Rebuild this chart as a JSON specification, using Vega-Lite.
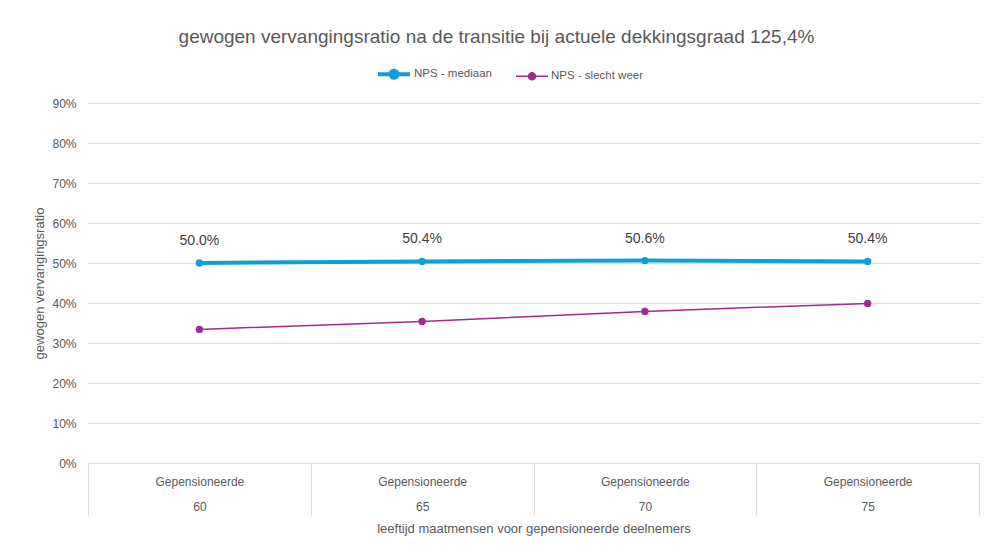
{
  "$schema": "https://vega.github.io/schema/vega-lite/v6.json",
  "width": 891,
  "height": 360,
  "autosize": {"type": "none"},
  "padding": {"left": 88, "top": 103, "right": 8, "bottom": 87},
  "background": "white",
  "title": {
    "text": "gewogen vervangingsratio na de transitie bij actuele dekkingsgraad 125,4%",
    "font": "Liberation Sans",
    "fontSize": 19,
    "fontWeight": "normal",
    "color": "#595959",
    "anchor": "middle",
    "dx": -37,
    "offset": 9
  },
  "data": {
    "values": [
      {"cat": "Gepensioneerde|60", "series": "NPS - mediaan", "value": 0.500},
      {"cat": "Gepensioneerde|65", "series": "NPS - mediaan", "value": 0.504},
      {"cat": "Gepensioneerde|70", "series": "NPS - mediaan", "value": 0.506},
      {"cat": "Gepensioneerde|75", "series": "NPS - mediaan", "value": 0.504},
      {"cat": "Gepensioneerde|60", "series": "NPS - slecht weer", "value": 0.334},
      {"cat": "Gepensioneerde|65", "series": "NPS - slecht weer", "value": 0.354},
      {"cat": "Gepensioneerde|70", "series": "NPS - slecht weer", "value": 0.379},
      {"cat": "Gepensioneerde|75", "series": "NPS - slecht weer", "value": 0.399}
    ]
  },
  "encoding": {
    "x": {
      "field": "cat",
      "type": "nominal",
      "sort": null,
      "scale": {"type": "band", "paddingInner": 0, "paddingOuter": 0},
      "axis": {
        "title": "leeftijd maatmensen voor gepensioneerde deelnemers",
        "labelExpr": "split(datum.label, '|')",
        "labelAngle": 0,
        "labelLineHeight": 25,
        "labelPadding": -39,
        "labelFont": "Liberation Sans",
        "labelFontSize": 12,
        "labelColor": "#595959",
        "tickBand": "extent",
        "tickSize": 52,
        "tickColor": "#d9d9d9",
        "tickWidth": 1,
        "domainColor": "#d9d9d9",
        "domainWidth": 1,
        "grid": false,
        "titleFont": "Liberation Sans",
        "titleFontSize": 13,
        "titleFontWeight": "normal",
        "titleColor": "#595959",
        "titlePadding": 7
      }
    },
    "y": {
      "field": "value",
      "type": "quantitative",
      "scale": {"domain": [0, 0.9], "nice": false},
      "axis": {
        "title": "gewogen vervangingsratio",
        "format": ".0%",
        "values": [0, 0.1, 0.2, 0.3, 0.4, 0.5, 0.6, 0.7, 0.8, 0.9],
        "domain": false,
        "ticks": false,
        "gridColor": "#d9d9d9",
        "gridWidth": 1,
        "labelPadding": 12,
        "labelFont": "Liberation Sans",
        "labelFontSize": 12,
        "labelColor": "#595959",
        "titleFont": "Liberation Sans",
        "titleFontSize": 13,
        "titleFontWeight": "normal",
        "titleColor": "#595959",
        "titlePadding": 5
      }
    },
    "color": {
      "field": "series",
      "type": "nominal",
      "scale": {"domain": ["NPS - mediaan", "NPS - slecht weer"], "range": ["#0F9ED5", "#A02B93"]},
      "legend": {
        "title": null,
        "orient": "none",
        "direction": "horizontal",
        "legendX": 288,
        "legendY": -47,
        "padding": 0,
        "symbolType": "M-1,0L1,0M-0.22,0A0.22,0.22,0,1,0,0.22,0A0.22,0.22,0,1,0,-0.22,0Z",
        "symbolSize": 1024,
        "symbolOpacity": 1,
        "labelFont": "Liberation Sans",
        "labelFontSize": 11.5,
        "labelColor": "#595959",
        "labelOffset": 2,
        "columnPadding": 21,
        "encode": {
          "symbols": {
            "update": {
              "fill": {"scale": "color", "field": "value"},
              "stroke": {"scale": "color", "field": "value"},
              "strokeWidth": {"signal": "datum.value === 'NPS - mediaan' ? 4 : 1.5"}
            }
          }
        }
      }
    }
  },
  "layer": [
    {
      "mark": {"type": "line"},
      "encoding": {
        "strokeWidth": {
          "field": "series",
          "type": "nominal",
          "scale": {"domain": ["NPS - mediaan", "NPS - slecht weer"], "range": [4, 1.5]},
          "legend": null
        }
      }
    },
    {
      "mark": {"type": "point", "filled": true, "opacity": 1, "size": 55}
    },
    {
      "transform": [{"filter": "datum.series === 'NPS - mediaan'"}],
      "mark": {"type": "text", "dy": -22, "font": "Liberation Sans", "fontSize": 14, "color": "#404040"},
      "encoding": {
        "text": {"field": "value", "type": "quantitative", "format": ".1%"},
        "color": {"value": "#404040"}
      }
    }
  ],
  "config": {
    "view": {"stroke": null}
  }
}
